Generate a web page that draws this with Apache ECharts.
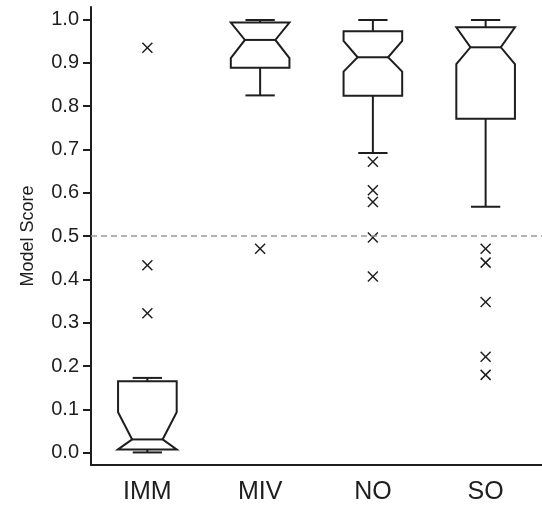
<!DOCTYPE html>
<html>
<head>
<meta charset="utf-8">
<script src="https://cdn.jsdelivr.net/npm/echarts@6/dist/echarts.min.js"></script>
<style>html,body{margin:0;padding:0;background:#fff}#c{width:542px;height:505px}</style>
</head>
<body>
<div id="c"></div>
<script>
const categories = ['IMM', 'MIV', 'NO', 'SO'];
const whiskerLow  = [0.001, 0.825, 0.692, 0.568];
const q1          = [0.008, 0.889, 0.824, 0.771];
const notchLow    = [0.008, 0.911, 0.880, 0.897];
const median      = [0.031, 0.953, 0.913, 0.936];
const notchHigh   = [0.094, 0.993, 0.951, 0.982];
const q3          = [0.165, 0.993, 0.973, 0.982];
const whiskerHigh = [0.173, 0.999, 0.999, 0.999];
const outlierIMM = [0.935, 0.433, 0.322];
const outlierMIV = [0.471];
const outlierNO  = [0.672, 0.606, 0.579, 0.497, 0.407];
const outlierSO  = [0.471, 0.439, 0.348, 0.222, 0.180];
const yTicks = [0, 0.1, 0.2, 0.3, 0.4, 0.5, 0.6, 0.7, 0.8, 0.9, 1.0];
const threshold = 0.5;

const boxData = categories.map((c, i) => [i, whiskerLow[i], q1[i], notchLow[i], median[i], notchHigh[i], q3[i], whiskerHigh[i]]);
const outlierData = [];
[outlierIMM, outlierMIV, outlierNO, outlierSO].forEach((arr, i) => arr.forEach(v => outlierData.push([i, v])));

const STROKE = '#1e1e1e';
const FONT = 'Liberation Sans, Arial, sans-serif';

function renderBox(params, api) {
  const i = api.value(0);
  const band = api.size([1, 0])[0];
  const cx = api.coord([i, 0])[0];
  const hw = band * 0.26, iw = band * 0.135, cw = band * 0.13;
  const y = k => api.coord([i, api.value(k)])[1];
  const yWL = y(1), yQ1 = y(2), yNL = y(3), yMed = y(4), yNH = y(5), yQ3 = y(6), yWH = y(7);
  const L = cx - hw, R = cx + hw, IL = cx - iw, IR = cx + iw;
  const st = { stroke: STROKE, lineWidth: 2, fill: null };
  return {
    type: 'group',
    children: [
      { type: 'line', shape: { x1: cx, y1: yQ3, x2: cx, y2: yWH }, style: st },
      { type: 'line', shape: { x1: cx - cw, y1: yWH, x2: cx + cw, y2: yWH }, style: st },
      { type: 'line', shape: { x1: cx, y1: yQ1, x2: cx, y2: yWL }, style: st },
      { type: 'line', shape: { x1: cx - cw, y1: yWL, x2: cx + cw, y2: yWL }, style: st },
      { type: 'polygon', shape: { points: [[L, yQ1], [L, yNL], [IL, yMed], [L, yNH], [L, yQ3], [R, yQ3], [R, yNH], [IR, yMed], [R, yNL], [R, yQ1]] },
        style: { stroke: STROKE, lineWidth: 2, fill: '#fff', lineJoin: 'miter' } },
      { type: 'line', shape: { x1: IL, y1: yMed, x2: IR, y2: yMed }, style: st }
    ]
  };
}

function renderOutlier(params, api) {
  const p = api.coord([api.value(0), api.value(1)]);
  const s = 5;
  const st = { stroke: STROKE, lineWidth: 1.5 };
  return {
    type: 'group',
    children: [
      { type: 'line', shape: { x1: p[0] - s, y1: p[1] - s, x2: p[0] + s, y2: p[1] + s }, style: st },
      { type: 'line', shape: { x1: p[0] - s, y1: p[1] + s, x2: p[0] + s, y2: p[1] - s }, style: st }
    ]
  };
}

const chart = echarts.init(document.getElementById('c'), null, { renderer: 'canvas' });
chart.setOption({
  animation: false,
  backgroundColor: '#fff',
  grid: { left: 91, right: 0, top: 7, bottom: 39 },
  xAxis: {
    type: 'category',
    data: categories,
    axisLine: { onZero: false, lineStyle: { color: STROKE, width: 2 } },
    axisTick: { alignWithLabel: true, length: 8, lineStyle: { color: STROKE, width: 2 } },
    axisLabel: { fontFamily: FONT, fontSize: 25, color: '#1e1e1e', margin: 15 },
    splitLine: { show: false }
  },
  yAxis: {
    type: 'value',
    min: -0.028,
    max: 1.029,
    name: 'Model Score',
    nameLocation: 'middle',
    nameGap: 54,
    nameRotate: 90,
    nameTextStyle: { fontFamily: FONT, fontSize: 18, color: '#1e1e1e' },
    axisLine: { show: true, lineStyle: { color: STROKE, width: 2 } },
    axisTick: { show: true, length: 8, customValues: yTicks, lineStyle: { color: STROKE, width: 2 } },
    axisLabel: { customValues: yTicks, formatter: v => v.toFixed(1), fontFamily: FONT, fontSize: 20, color: '#1e1e1e', margin: 12 },
    splitLine: { show: false }
  },
  series: [
    {
      type: 'custom',
      renderItem: renderBox,
      data: boxData,
      encode: { x: 0, y: [1, 2, 3, 4, 5, 6, 7] },
      z: 3,
      markLine: {
        silent: true,
        symbol: 'none',
        label: { show: false },
        lineStyle: { color: '#999', type: [6, 4], width: 1.5 },
        data: [{ yAxis: threshold }]
      }
    },
    {
      type: 'custom',
      renderItem: renderOutlier,
      data: outlierData,
      encode: { x: 0, y: 1 },
      z: 4
    }
  ]
});
</script>
</body>
</html>
